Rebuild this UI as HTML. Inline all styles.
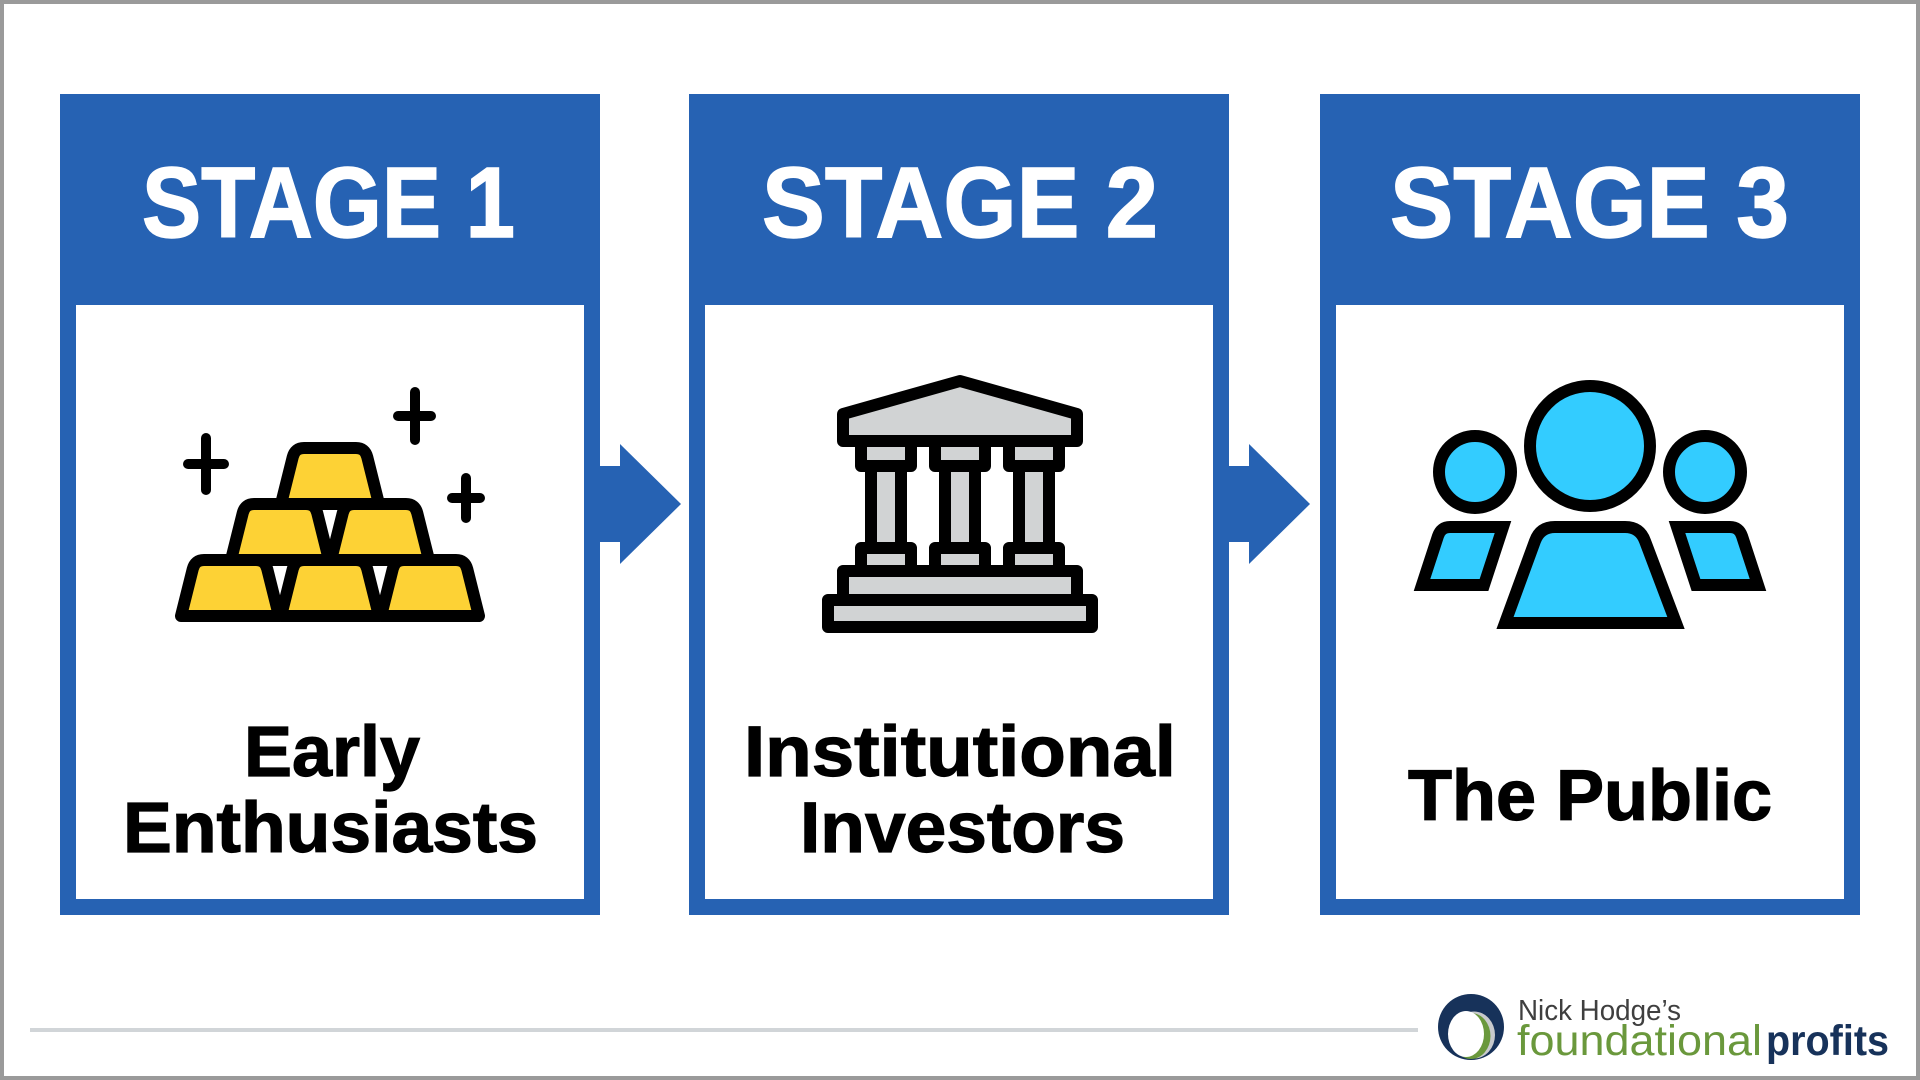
<!DOCTYPE html>
<html>
<head>
<meta charset="utf-8">
<style>
  html,body{margin:0;padding:0;background:#fff;}
  svg{display:block;}
</style>
</head>
<body>
<svg width="1920" height="1080" viewBox="0 0 1920 1080" xmlns="http://www.w3.org/2000/svg">
  <!-- background & outer border -->
  <rect x="2" y="2" width="1916" height="1076" fill="#ffffff" stroke="#9a9a9a" stroke-width="4"/>

  <!-- Box 1 -->
  <rect x="60" y="94" width="540" height="821" fill="#2662B3"/>
  <rect x="76" y="305" width="508" height="594" fill="#ffffff"/>
  <!-- Box 2 -->
  <rect x="689" y="94" width="540" height="821" fill="#2662B3"/>
  <rect x="705" y="305" width="508" height="594" fill="#ffffff"/>
  <!-- Box 3 -->
  <rect x="1320" y="94" width="540" height="821" fill="#2662B3"/>
  <rect x="1336" y="305" width="508" height="594" fill="#ffffff"/>

  <!-- Arrows -->
  <rect x="599" y="466" width="22" height="76" fill="#2662B3"/>
  <polygon points="620,444 681,504 620,564" fill="#2662B3"/>
  <rect x="1228" y="466" width="22" height="76" fill="#2662B3"/>
  <polygon points="1249,444 1310,504 1249,564" fill="#2662B3"/>

  <!-- Header text -->
  <g font-family="'Liberation Sans', Arial, sans-serif" font-weight="bold" font-size="100" fill="#ffffff" stroke="#ffffff" stroke-width="1.5">
    <text x="142" y="237" textLength="373" lengthAdjust="spacingAndGlyphs">STAGE 1</text>
    <text x="762" y="237" textLength="396" lengthAdjust="spacingAndGlyphs">STAGE 2</text>
    <text x="1390" y="237" textLength="399" lengthAdjust="spacingAndGlyphs">STAGE 3</text>
  </g>

  <!-- Gold bars icon -->
  <g stroke="#000" stroke-width="12" stroke-linejoin="round" fill="#FDD235">
    <path d="M181,616 L192.75,569 Q195,560 204,560 L256,560 Q265,560 267.25,569 L279,616 Z"/>
    <path d="M281,616 L292.75,569 Q295,560 304,560 L356,560 Q365,560 367.25,569 L379,616 Z"/>
    <path d="M381,616 L392.75,569 Q395,560 404,560 L456,560 Q465,560 467.25,569 L479,616 Z"/>
    <path d="M231,560 L242.75,513 Q245,504 254,504 L306,504 Q315,504 317.25,513 L329,560 Z"/>
    <path d="M331,560 L342.75,513 Q345,504 354,504 L406,504 Q415,504 417.25,513 L429,560 Z"/>
    <path d="M281,504 L292.75,457 Q295,448 304,448 L356,448 Q365,448 367.25,457 L379,504 Z"/>
  </g>
  <g stroke="#000" stroke-width="10" stroke-linecap="round" fill="none">
    <line x1="188" y1="464" x2="224" y2="464"/>
    <line x1="206" y1="438" x2="206" y2="490"/>
    <line x1="398" y1="416" x2="431" y2="416"/>
    <line x1="415" y1="392" x2="415" y2="440"/>
    <line x1="452" y1="498" x2="480" y2="498"/>
    <line x1="466" y1="478" x2="466" y2="518"/>
  </g>

  <!-- Building icon -->
  <g stroke="#000" stroke-width="12" stroke-linejoin="round" fill="#D1D3D4">
    <path d="M843,441 L843,414 L960,381 L1077,414 L1077,441 Z"/>
    <rect x="871" y="466" width="30" height="82"/>
    <rect x="945" y="466" width="30" height="82"/>
    <rect x="1019" y="466" width="30" height="82"/>
    <rect x="861" y="441" width="50" height="25"/>
    <rect x="935" y="441" width="50" height="25"/>
    <rect x="1009" y="441" width="50" height="25"/>
    <rect x="861" y="548" width="50" height="23"/>
    <rect x="935" y="548" width="50" height="23"/>
    <rect x="1009" y="548" width="50" height="23"/>
    <rect x="843" y="571" width="234" height="29"/>
    <rect x="828" y="600" width="264" height="27"/>
  </g>

  <!-- People icon -->
  <g stroke="#000" stroke-width="12" fill="#33CCFF">
    <circle cx="1590" cy="446" r="60"/>
    <circle cx="1475" cy="472" r="36"/>
    <circle cx="1705" cy="472" r="36"/>
    <path d="M1505,623 L1535,541 Q1540,527 1555,527 L1625,527 Q1640,527 1645,541 L1676,623 Z" stroke-linejoin="miter"/>
    <path d="M1422,585 L1438,536 Q1441,527 1450,527 L1503,527 L1484,585 Z" stroke-linejoin="miter"/>
    <path d="M1758,585 L1742,536 Q1739,527 1730,527 L1677,527 L1696,585 Z" stroke-linejoin="miter"/>
  </g>

  <!-- Body labels -->
  <g font-family="'Liberation Sans', Arial, sans-serif" font-weight="bold" font-size="71" fill="#000" stroke="#000" stroke-width="1.2">
    <text x="244" y="776" textLength="176" lengthAdjust="spacingAndGlyphs">Early</text>
    <text x="123" y="852" textLength="415" lengthAdjust="spacingAndGlyphs">Enthusiasts</text>
    <text x="744" y="776" textLength="432" lengthAdjust="spacingAndGlyphs">Institutional</text>
    <text x="800" y="852" textLength="325" lengthAdjust="spacingAndGlyphs">Investors</text>
    <text x="1408" y="820" textLength="364" lengthAdjust="spacingAndGlyphs">The Public</text>
  </g>

  <!-- Footer line -->
  <rect x="30" y="1028" width="1388" height="4" fill="#D1D5D8"/>

  <!-- Logo -->
  <circle cx="1471" cy="1027" r="33" fill="#17325A"/>
  <ellipse cx="1474" cy="1035" rx="21" ry="23.5" fill="#C8CACC"/>
  <ellipse cx="1471" cy="1036" rx="19.5" ry="23" fill="#6A983C"/>
  <ellipse cx="1466" cy="1034" rx="18" ry="23" fill="#ffffff"/>
  <text x="1518" y="1020" font-family="'Liberation Sans', Arial, sans-serif" font-size="29" fill="#3f3f3f" textLength="163" lengthAdjust="spacingAndGlyphs">Nick Hodge’s</text>
  <text x="1517" y="1055" font-family="'Liberation Sans', Arial, sans-serif" font-size="43" fill="#6A983C" textLength="245" lengthAdjust="spacingAndGlyphs">foundational</text>
  <text x="1766" y="1055" font-family="'Liberation Sans', Arial, sans-serif" font-size="43" font-weight="bold" fill="#17325A" textLength="123" lengthAdjust="spacingAndGlyphs">profits</text>
</svg>
</body>
</html>
